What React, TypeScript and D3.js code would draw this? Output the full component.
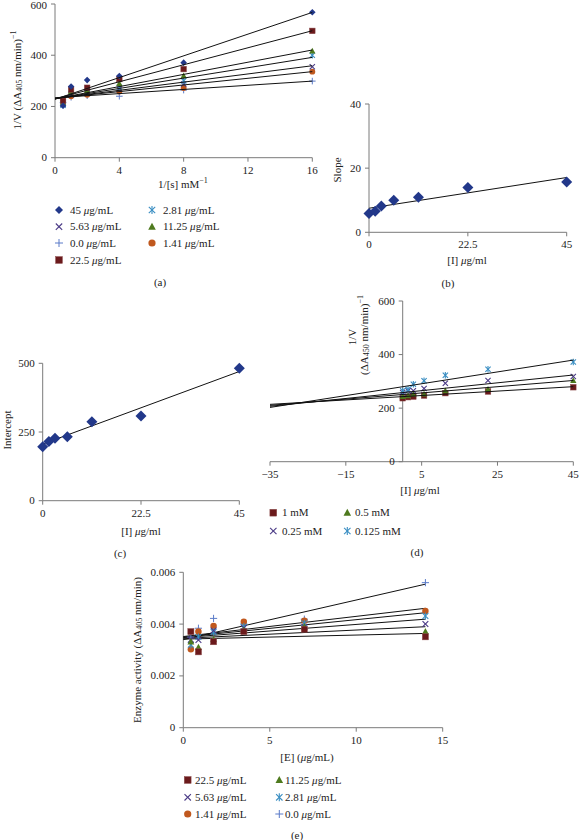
import React from 'react';
import * as d3 from 'd3';

const FONT = '"Liberation Serif", "Times New Roman", serif';

// ---------- Panel (a): Lineweaver-Burk ----------
const aX = [0.5, 1, 2, 4, 8, 16];
const aXTicks = [0, 4, 8, 12, 16];
const aYTicks = [0, 200, 400, 600];
const aY45 = [203, 278, 303, 319, 371, 568];
const aY22 = [222, 266, 273, 307, 346, 495];
const aY11 = [215, 258, 262, 290, 320, 416];
const aY281 = [205, 250, 255, 275, 300, 400];
const aY563 = [210, 246, 252, 268, 288, 355];
const aY141 = [225, 240, 246, 258, 272, 336];
const aY0 = [215, 236, 242, 240, 264, 299];
// fitted lines [intercept, slope]
const aFit45 = [228, 21.2];
const aFit22 = [230, 16.6];
const aFit11 = [230, 11.9];
const aFit281 = [230, 10.1];
const aFit563 = [231, 8.0];
const aFit141 = [232, 6.5];
const aFit0 = [234, 4.06];

// ---------- Panel (b): slope replot ----------
const bX = [0, 1.41, 2.81, 5.63, 11.25, 22.5, 45];
const bY = [5.9, 6.6, 8.2, 10.0, 10.9, 14.0, 15.7];
const bFit = [7.5, 0.213];
const bXTicks = [0, 22.5, 45];
const bYTicks = [0, 20, 40];

// ---------- Panel (c): intercept replot ----------
const cX = [0, 1.41, 2.81, 5.63, 11.25, 22.5, 45];
const cY = [196, 215, 227, 233, 287, 308, 482];
const cFit = [206, 5.87];
const cXTicks = [0, 22.5, 45];
const cYTicks = [0, 250, 500];

// ---------- Panel (d): Dixon plot ----------
const dX = [0, 1.41, 2.81, 5.63, 11.25, 22.5, 45];
const dY1 = [237, 241, 243, 247, 256, 262, 278];
const dY05 = [243, 246, 253, 253, 265, 270, 303];
const dY025 = [258, 265, 265, 273, 293, 303, 318];
const dY0125 = [265, 270, 289, 302, 323, 345, 372];
const dFit1 = [243, 0.825];
const dFit05 = [251, 1.16];
const dFit025 = [258, 1.46];
const dFit0125 = [280, 2.21];
const dXTicks = [-35, -15, 5, 25, 45];
const dYTicks = [0, 200, 400, 600];

// ---------- Panel (e): enzyme activity ----------
const eX = [0.4375, 0.875, 1.75, 3.5, 7, 14];
const eY22 = [0.00371, 0.00293, 0.00332, 0.00371, 0.0038, 0.00351];
const eY11 = [0.00332, 0.0031, 0.00341, 0.00377, 0.0039, 0.00371];
const eY563 = [0.0034, 0.00339, 0.00375, 0.00385, 0.0039, 0.004];
const eY281 = [0.0032, 0.0035, 0.0037, 0.0039, 0.00403, 0.00431];
const eY141 = [0.00303, 0.00371, 0.00393, 0.00409, 0.00413, 0.00451];
const eY0 = [0.0035, 0.00384, 0.00422, 0.004, 0.00419, 0.0056];
const eFit22 = [0.00342, 0.0000157];
const eFit11 = [0.00345, 0.0000321];
const eFit563 = [0.00348, 0.0000507];
const eFit281 = [0.0035, 0.0000671];
const eFit141 = [0.00352, 0.0000779];
const eFit0 = [0.0034, 0.000153];
const eXTicks = [0, 5, 10, 15];
const eYTicks = [0, 0.002, 0.004, 0.006];

// styles
const C = {
  diamond: '#22388a',
  square: '#6b1a1c',
  triangle: '#4e7a1e',
  x: '#4a3a86',
  star: '#3a8ec2',
  circle: '#c0581e',
  plus: '#5b7bc8',
};
const AXIS = '#7a7a7a';

type MType = 'diamond' | 'square' | 'triangle' | 'x' | 'star' | 'circle' | 'plus';

function Marker({ t, x, y, s }: { t: MType; x: number; y: number; s: number }) {
  const col = C[t];
  switch (t) {
    case 'diamond':
      return <path d={`M${x},${y - s}L${x + s},${y}L${x},${y + s}L${x - s},${y}Z`} fill={col} />;
    case 'square':
      return <rect x={x - s * 0.85} y={y - s * 0.85} width={s * 1.7} height={s * 1.7} fill={col} stroke="#8a4a4a" strokeWidth={0.5} />;
    case 'triangle':
      return <path d={`M${x},${y - s}L${x + s * 0.95},${y + s * 0.75}L${x - s * 0.95},${y + s * 0.75}Z`} fill={col} />;
    case 'circle':
      return <circle cx={x} cy={y} r={s * 0.9} fill={col} />;
    case 'x':
      return (
        <g stroke={col} strokeWidth={1.1}>
          <line x1={x - s * 0.8} y1={y - s * 0.8} x2={x + s * 0.8} y2={y + s * 0.8} />
          <line x1={x - s * 0.8} y1={y + s * 0.8} x2={x + s * 0.8} y2={y - s * 0.8} />
        </g>
      );
    case 'plus':
      return (
        <g stroke={col} strokeWidth={1}>
          <line x1={x - s} y1={y} x2={x + s} y2={y} />
          <line x1={x} y1={y - s} x2={x} y2={y + s} />
        </g>
      );
    case 'star':
      return (
        <g stroke={col} strokeWidth={1.1}>
          <line x1={x - s * 0.8} y1={y - s * 0.8} x2={x + s * 0.8} y2={y + s * 0.8} />
          <line x1={x - s * 0.8} y1={y + s * 0.8} x2={x + s * 0.8} y2={y - s * 0.8} />
          <line x1={x} y1={y - s} x2={x} y2={y + s} />
        </g>
      );
  }
  return null;
}

type Lin = d3.ScaleLinear<number, number>;

function Axes({ xs, ys, xTicks, yTicks, xAt, yAt, fmtX, fmtY }: {
  xs: Lin; ys: Lin; xTicks: number[]; yTicks: number[]; xAt: number; yAt: number;
  fmtX?: (v: number) => string; fmtY?: (v: number) => string;
}) {
  const fx = fmtX || ((v: number) => String(v).replace('-', '\u2212'));
  const fy = fmtY || ((v: number) => String(v));
  const ax = xs(yAt);
  const ay = ys(xAt);
  const [x0, x1] = xs.range();
  const [y0, y1] = ys.range();
  return (
    <g fontFamily={FONT} fontSize={11} fill="#222">
      <line x1={x0} x2={x1} y1={ay} y2={ay} stroke={AXIS} strokeWidth={1} />
      <line x1={ax} x2={ax} y1={y0} y2={y1} stroke={AXIS} strokeWidth={1} />
      {xTicks.map((v) => (
        <g key={'x' + v}>
          <line x1={xs(v)} x2={xs(v)} y1={ay} y2={ay + 4} stroke={AXIS} />
          <text x={xs(v)} y={ay + 8} dy="0.71em" textAnchor="middle">{fx(v)}</text>
        </g>
      ))}
      {yTicks.map((v) => (
        <g key={'y' + v}>
          <line x1={ax - 4} x2={ax} y1={ys(v)} y2={ys(v)} stroke={AXIS} />
          <text x={ax - 8} y={Math.max(ys(v), 5.5)} dy="0.32em" textAnchor="end">{fy(v)}</text>
        </g>
      ))}
    </g>
  );
}

function FitLine({ xs, ys, fit, from, to }: { xs: Lin; ys: Lin; fit: number[]; from: number; to: number }) {
  const line = d3.line<number>().x((v) => xs(v)).y((v) => ys(fit[0] + fit[1] * v));
  return <path d={line([from, to]) || ''} stroke="#111" strokeWidth={1} fill="none" />;
}

function Points({ xs, ys, xv, yv, t, s }: { xs: Lin; ys: Lin; xv: number[]; yv: number[]; t: MType; s: number }) {
  return (
    <g>
      {xv.map((v, i) => (
        <Marker key={i} t={t} x={xs(v)} y={ys(yv[i])} s={s} />
      ))}
    </g>
  );
}

function Legend({ items, cols, rows }: { items: { t: MType; label: string }[]; cols: [number, number][]; rows: number[] }) {
  return (
    <g fontFamily={FONT} fontSize={11} fill="#222">
      {items.map((it, i) => {
        const c = cols[i % cols.length];
        const r = rows[Math.floor(i / cols.length)];
        const parts = it.label.split('\u03bc');
        return (
          <g key={i}>
            <Marker t={it.t} x={c[0]} y={r} s={4} />
            <text x={c[1]} y={r} dy="0.32em">
              {parts[0]}
              {parts.length > 1 && <tspan fontStyle="italic">{'\u03bc'}</tspan>}
              {parts.length > 1 && parts[1]}
            </text>
          </g>
        );
      })}
    </g>
  );
}

function Mu() {
  return <tspan fontStyle="italic">{'\u03bc'}</tspan>;
}

export default function App() {
  const axs = d3.scaleLinear().domain([0, 16]).range([55, 312.3]);
  const ays = d3.scaleLinear().domain([0, 600]).range([157.7, 4]);
  const bxs = d3.scaleLinear().domain([0, 45]).range([369, 566.7]);
  const bys = d3.scaleLinear().domain([0, 40]).range([232.3, 104]);
  const cxs = d3.scaleLinear().domain([0, 45]).range([42.7, 239.3]);
  const cys = d3.scaleLinear().domain([0, 500]).range([500.7, 363.3]);
  const dxs = d3.scaleLinear().domain([-35, 45]).range([270, 573.3]);
  const dys = d3.scaleLinear().domain([0, 600]).range([461.7, 301]);
  const exs = d3.scaleLinear().domain([0, 15]).range([183.3, 442.7]);
  const eys = d3.scaleLinear().domain([0, 0.006]).range([727.7, 572.3]);

  const aSeries: { t: MType; y: number[]; fit: number[] }[] = [
    { t: 'plus', y: aY0, fit: aFit0 },
    { t: 'circle', y: aY141, fit: aFit141 },
    { t: 'x', y: aY563, fit: aFit563 },
    { t: 'star', y: aY281, fit: aFit281 },
    { t: 'triangle', y: aY11, fit: aFit11 },
    { t: 'square', y: aY22, fit: aFit22 },
    { t: 'diamond', y: aY45, fit: aFit45 },
  ];
  const dSeries: { t: MType; y: number[]; fit: number[] }[] = [
    { t: 'square', y: dY1, fit: dFit1 },
    { t: 'triangle', y: dY05, fit: dFit05 },
    { t: 'x', y: dY025, fit: dFit025 },
    { t: 'star', y: dY0125, fit: dFit0125 },
  ];
  const eSeries: { t: MType; y: number[]; fit: number[] }[] = [
    { t: 'plus', y: eY0, fit: eFit0 },
    { t: 'circle', y: eY141, fit: eFit141 },
    { t: 'star', y: eY281, fit: eFit281 },
    { t: 'x', y: eY563, fit: eFit563 },
    { t: 'triangle', y: eY11, fit: eFit11 },
    { t: 'square', y: eY22, fit: eFit22 },
  ];

  const tf = { fontFamily: FONT, fontSize: 11, fill: '#222' } as const;

  return (
    <svg width={579} height={840} style={{ position: 'absolute', left: 0, top: 0, background: '#fff' }}>
      {/* ---------- (a) ---------- */}
      <Axes xs={axs} ys={ays} xTicks={aXTicks} yTicks={aYTicks} xAt={0} yAt={0} />
      {aSeries.map((s, i) => (
        <Points key={i} xs={axs} ys={ays} xv={aX} yv={s.y} t={s.t} s={3.3} />
      ))}
      {aSeries.map((s, i) => (
        <FitLine key={i} xs={axs} ys={ays} fit={s.fit} from={0} to={16} />
      ))}
      <text {...tf} x={183} y={184} textAnchor="middle" dominantBaseline="central">
        1/[s] mM<tspan fontSize={8} dy={-4}>{'\u22121'}</tspan>
      </text>
      <text {...tf} transform="translate(17,80) rotate(-90)" textAnchor="middle" dominantBaseline="central">
        1/V (ΔA<tspan fontSize={8} dy={2}>405</tspan><tspan dy={-2}> nm/min)</tspan>
        <tspan fontSize={8} dy={-4}>{'\u22121'}</tspan>
      </text>
      <Legend
        items={[
          { t: 'diamond', label: '45 \u03bcg/mL' },
          { t: 'star', label: '2.81 \u03bcg/mL' },
          { t: 'x', label: '5.63 \u03bcg/mL' },
          { t: 'triangle', label: '11.25 \u03bcg/mL' },
          { t: 'plus', label: '0.0 \u03bcg/mL' },
          { t: 'circle', label: '1.41 \u03bcg/mL' },
          { t: 'square', label: '22.5 \u03bcg/mL' },
        ]}
        cols={[[59, 70], [152, 163]]}
        rows={[210, 226.7, 243, 260]}
      />
      <text {...tf} x={160} y={282} textAnchor="middle" dominantBaseline="central">(a)</text>

      {/* ---------- (b) ---------- */}
      <Axes xs={bxs} ys={bys} xTicks={bXTicks} yTicks={bYTicks} xAt={0} yAt={0} />
      <FitLine xs={bxs} ys={bys} fit={bFit} from={0} to={45} />
      <Points xs={bxs} ys={bys} xv={bX} yv={bY} t="diamond" s={5.5} />
      <text {...tf} x={467} y={260} textAnchor="middle" dominantBaseline="central">
        [I] <Mu />g/ml
      </text>
      <text {...tf} transform="translate(337,170) rotate(-90)" textAnchor="middle" dominantBaseline="central">Slope</text>
      <text {...tf} x={448} y={283} textAnchor="middle" dominantBaseline="central">(b)</text>

      {/* ---------- (c) ---------- */}
      <Axes xs={cxs} ys={cys} xTicks={cXTicks} yTicks={cYTicks} xAt={0} yAt={0} />
      <FitLine xs={cxs} ys={cys} fit={cFit} from={0} to={45} />
      <Points xs={cxs} ys={cys} xv={cX} yv={cY} t="diamond" s={5.5} />
      <text {...tf} x={141} y={531} textAnchor="middle" dominantBaseline="central">
        [I] <Mu />g/ml
      </text>
      <text {...tf} transform="translate(7,430) rotate(-90)" textAnchor="middle" dominantBaseline="central">Intercept</text>
      <text {...tf} x={120} y={553} textAnchor="middle" dominantBaseline="central">(c)</text>

      {/* ---------- (d) ---------- */}
      <Axes xs={dxs} ys={dys} xTicks={dXTicks} yTicks={dYTicks} xAt={0} yAt={0} />
      {dSeries.map((s, i) => (
        <Points key={i} xs={dxs} ys={dys} xv={dX} yv={s.y} t={s.t} s={3.3} />
      ))}
      {dSeries.map((s, i) => (
        <FitLine key={i} xs={dxs} ys={dys} fit={s.fit} from={-35} to={45} />
      ))}
      <text {...tf} x={420} y={490} textAnchor="middle" dominantBaseline="central">
        [I] <Mu />g/ml
      </text>
      <text {...tf} transform="translate(352,337) rotate(-90)" textAnchor="middle" dominantBaseline="central">1/V</text>
      <text {...tf} transform="translate(364,335) rotate(-90)" textAnchor="middle" dominantBaseline="central">
        (ΔA<tspan fontSize={8} dy={2}>450</tspan><tspan dy={-2}> nm/min)</tspan>
        <tspan fontSize={8} dy={-4}>{'\u22121'}</tspan>
      </text>
      <Legend
        items={[
          { t: 'square', label: '1 mM' },
          { t: 'triangle', label: '0.5 mM' },
          { t: 'x', label: '0.25 mM' },
          { t: 'star', label: '0.125 mM' },
        ]}
        cols={[[273.3, 282], [347.3, 355]]}
        rows={[512.7, 531]}
      />
      <text {...tf} x={417} y={552} textAnchor="middle" dominantBaseline="central">(d)</text>

      {/* ---------- (e) ---------- */}
      <Axes xs={exs} ys={eys} xTicks={eXTicks} yTicks={eYTicks} xAt={0} yAt={0} />
      {eSeries.map((s, i) => (
        <FitLine key={i} xs={exs} ys={eys} fit={s.fit} from={0} to={14} />
      ))}
      {eSeries.map((s, i) => (
        <Points key={i} xs={exs} ys={eys} xv={eX} yv={s.y} t={s.t} s={3.6} />
      ))}
      <text {...tf} x={307} y={757} textAnchor="middle" dominantBaseline="central">
        [E] (<Mu />g/mL)
      </text>
      <text {...tf} transform="translate(137,650) rotate(-90)" textAnchor="middle" dominantBaseline="central">
        Enzyme activity (ΔA<tspan fontSize={8} dy={2}>405</tspan><tspan dy={-2}> nm/min)</tspan>
      </text>
      <Legend
        items={[
          { t: 'square', label: '22.5 \u03bcg/mL' },
          { t: 'triangle', label: '11.25 \u03bcg/mL' },
          { t: 'x', label: '5.63 \u03bcg/mL' },
          { t: 'star', label: '2.81 \u03bcg/mL' },
          { t: 'circle', label: '1.41 \u03bcg/mL' },
          { t: 'plus', label: '0.0 \u03bcg/mL' },
        ]}
        cols={[[187.7, 195], [279.3, 285]]}
        rows={[780, 797.3, 814]}
      />
      <text {...tf} x={297} y={835} textAnchor="middle" dominantBaseline="central">(e)</text>
    </svg>
  );
}
